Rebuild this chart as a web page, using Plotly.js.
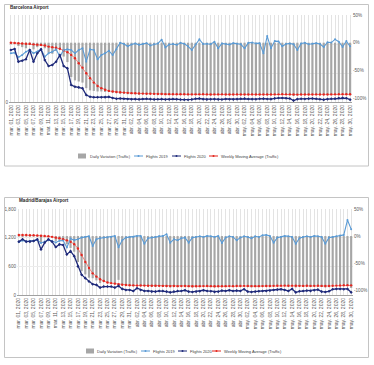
<!DOCTYPE html>
<html><head><meta charset="utf-8">
<script src="https://cdn.plot.ly/plotly-3.0.1.min.js"></script>
<style>html,body{margin:0;padding:0;background:#fff}#chart{width:374px;height:365px}</style>
</head><body><div id="chart"></div>
<script>
// ---- categories / tick labels ----
const MONTHS = ['mar.', 'abr.', 'may.'];
const MONTH_DAYS = [31, 30, 30];
const dates = [];
MONTHS.forEach((m, k) => { for (let d = 1; d <= MONTH_DAYS[k]; d++) dates.push(m + ' ' + String(d).padStart(2, '0') + ', 2020'); });
const dayIndex = dates.map((_, i) => i);

const SERIES_NAMES = ['Daily Variation (Traffic)', 'Flights 2019', 'Flights 2020', 'Weekly Moving Average (Traffic)'];
const PANEL_TITLES = ['Barcelona Airport', 'Madrid/Barajas Airport'];

// ---- Barcelona ----
const bcnFlights2020 = [
  897, 914, 695, 712, 736, 897, 695, 840, 908, 724,
  620, 638, 695, 810, 620, 580, 293, 264, 253, 236,
  121, 91, 81, 81, 81, 84, 88, 70, 57, 60,
  55, 52, 48, 50, 46, 52, 55, 50, 45, 47,
  50, 44, 46, 52, 48, 42, 40, 38, 45, 55,
  60, 50, 45, 48, 50, 46, 44, 52, 48, 46,
  50, 55, 60, 52, 50, 48, 55, 58, 52, 50,
  62, 68, 70, 65, 60, 25, 50, 55, 52, 58,
  60, 55, 48, 40, 50, 55, 58, 68, 72, 65,
  40];
const bcnFlights2019 = [
  839, 850, 770, 810, 868, 897, 839, 868, 908, 782,
  839, 868, 908, 782, 897, 908, 897, 839, 897, 925,
  695, 908, 897, 736, 810, 839, 885, 810, 908, 1023,
  1000, 960, 990, 1010, 985, 1000, 1015, 975, 995, 1010,
  1075, 940, 990, 1000, 985, 1020, 1005, 960, 897, 990,
  1080, 1000, 1005, 995, 1040, 925, 1010, 1000, 990, 1015,
  1005, 995, 925, 1020, 1025, 1010, 1015, 839, 1137, 925,
  1050, 1045, 960, 1000, 1010, 995, 897, 1010, 1020, 995,
  1005, 1015, 1000, 950, 1030, 1025, 1080, 1040, 950, 1050,
  960];
const bcnDailyVar = [
  -3, -2, -6, -8, -10, -4, -12, -8, -6, -10,
  -18, -20, -15, -12, -25, -35, -62, -68, -70, -72,
  -82, -86, -87, -88, -88, -89, -89, -90, -91, -92,
  -92, -93, -92, -93, -94, -93, -93, -92, -94, -93,
  -94, -93, -94, -93, -92, -94, -94, -95, -93, -94,
  -94, -93, -94, -95, -93, -94, -94, -93, -94, -93,
  -94, -93, -93, -94, -93, -94, -94, -93, -94, -93,
  -93, -92, -93, -94, -93, -96, -94, -93, -94, -93,
  -93, -94, -93, -94, -94, -93, -93, -92, -92, -93,
  -95];
const bcnWeeklyAvg = [
  0, -0.5, -1, -1.5, -2, -2, -3, -3.5, -4, -5,
  -7, -8, -9, -11, -14, -17, -22, -28, -37, -45,
  -55, -64, -72, -78, -82, -85, -87, -88, -89, -89.5,
  -90, -90.5, -91, -91.2, -91.5, -91.8, -92, -92, -92.3, -92.5,
  -92.6, -92.8, -92.8, -93, -93, -93.1, -93, -93.2, -93.3, -93.2,
  -93.2, -93.1, -93.3, -93.4, -93.3, -93.3, -93.2, -93.4, -93.5, -93.4,
  -93.3, -93.4, -93.5, -93.4, -93.3, -93.4, -93.5, -93.6, -93.5, -93.4,
  -93.3, -93.2, -93.1, -93.2, -93.3, -93.6, -93.7, -93.6, -93.5, -93.4,
  -93.4, -93.3, -93.4, -93.5, -93.4, -93.3, -93.2, -93.1, -93.0, -93.0,
  -93.1];

// ---- Madrid ----
const madFlights2020 = [
  1117, 1166, 1117, 1117, 1131, 1166, 954, 1096, 1166, 1117,
  1004, 1060, 1046, 848, 918, 813, 600, 424, 353, 282,
  226, 212, 155, 177, 177, 177, 155, 190, 127, 106,
  106, 85, 141, 106, 85, 85, 71, 71, 85, 85,
  71, 56, 71, 85, 85, 99, 71, 64, 71, 78,
  99, 85, 78, 64, 71, 92, 85, 99, 85, 92,
  85, 120, 71, 64, 71, 78, 85, 85, 92, 106,
  113, 120, 106, 85, 127, 56, 78, 85, 92, 85,
  99, 113, 71, 64, 78, 120, 127, 127, 120, 127,
  56];
const madFlights2019 = [
  1110, 1140, 1120, 1130, 1125, 1150, 1090, 1120, 1145, 1130,
  1100, 1135, 1140, 995, 1180, 1150, 1166, 1201, 1215, 1230,
  1025, 1166, 1187, 1201, 1201, 1215, 1237, 1000, 1145, 1201,
  1215, 1215, 1237, 1237, 1074, 1187, 1201, 1215, 1237, 1237,
  1272, 1096, 1166, 1145, 1187, 1201, 1096, 1201, 1215, 1230,
  1215, 1237, 1230, 1215, 1237, 1090, 1201, 1230, 1215, 1145,
  1201, 1230, 1215, 1187, 1230, 1215, 1251, 1258, 1237, 1096,
  1201, 1215, 1237, 1230, 1215, 1074, 1187, 1215, 1230, 1215,
  1237, 1230, 1215, 1074, 1201, 1215, 1230, 1244, 1258, 1569,
  1378];
const madDailyVar = [
  -1, -2, -1, -1, -1, -1, -12, -2, -1, -1,
  -9, -7, -8, -15, -22, -29, -48, -65, -71, -77,
  -78, -82, -87, -85, -85, -85, -87, -81, -89, -91,
  -91, -93, -89, -91, -92, -93, -94, -94, -93, -93,
  -94, -95, -94, -93, -93, -92, -94, -95, -94, -94,
  -92, -93, -94, -95, -94, -92, -93, -92, -93, -92,
  -93, -90, -94, -95, -94, -94, -93, -93, -93, -91,
  -91, -90, -91, -93, -90, -95, -93, -93, -92, -93,
  -92, -91, -94, -95, -94, -90, -90, -90, -90, -92,
  -96];
const madWeeklyAvg = [
  2, 2, 1.8, 1.6, 1.5, 1, 0.5, 0, -0.5, -1.5,
  -3, -4, -6, -8, -10.5, -15, -23, -35, -48, -59,
  -69, -75, -80, -83, -86, -87, -88, -89, -90, -90.5,
  -91, -91.2, -91.3, -91.5, -91.6, -91.8, -92, -92, -92.1, -92.2,
  -92.3, -92.5, -92.4, -92.6, -92.5, -92.4, -92.6, -92.8, -92.7, -92.6,
  -92.5, -92.4, -92.6, -92.8, -92.9, -92.7, -92.6, -92.5, -92.6, -92.4,
  -92.3, -92.1, -92.3, -92.5, -92.6, -92.6, -92.5, -92.4, -92.3, -92.1,
  -91.9, -91.7, -91.6, -91.8, -91.7, -92.0, -92.1, -92.2, -92.0, -92.2,
  -92.1, -92.0, -92.2, -92.4, -92.3, -91.9, -91.6, -91.3, -91.0, -91.0,
  -91.2];

const pctTicks = [-100, -50, 0, 50];
const pctTickText = ['-100%', '-50%', '0%', '50%'];
const madFlightTicks = [0, 600, 1200, 1800];
const madFlightTickText = ['0', '600', '1,200', '1,800'];
const bcnFlightTicks = [0, 500, 1000, 1500];
const bcnFlightTickText = ['0', '', '', ''];

// ---- styles ----
const W = 374, H = 365;
const px = p => p / W, py = p => 1 - p / H;
const FONT = 'Liberation Sans, Arial, sans-serif';
const C_BAR = '#a6a6a6', C_2019 = '#5b9bd5', C_2020 = '#1f2a7a', C_AVG = '#e3261f';
const evenTicks = dayIndex.filter(i => i % 2 === 0);
const evenText = evenTicks.map(i => dates[i]);

function panelTraces(xa, yPct, yFl, v, a, f19, f20) {
  return [
    {type: 'bar', x: dayIndex, y: v, xaxis: xa, yaxis: yPct, name: SERIES_NAMES[0], marker: {color: C_BAR}, width: 0.58, hoverinfo: 'skip', showlegend: false},
    {type: 'scatter', mode: 'lines+markers', x: dayIndex, y: a, xaxis: xa, yaxis: yPct, name: SERIES_NAMES[3], line: {color: '#ee6a62', width: 0.8}, marker: {color: C_AVG, size: 2.4}, hoverinfo: 'skip', showlegend: false},
    {type: 'scatter', mode: 'lines+markers', x: dayIndex, y: f19, xaxis: xa, yaxis: yFl, name: SERIES_NAMES[1], line: {color: C_2019, width: 1.1}, marker: {color: C_2019, size: 2}, hoverinfo: 'skip', showlegend: false},
    {type: 'scatter', mode: 'lines+markers', x: dayIndex, y: f20, xaxis: xa, yaxis: yFl, name: SERIES_NAMES[2], line: {color: C_2020, width: 1.3}, marker: {color: C_2020, size: 2.4, symbol: 'diamond'}, hoverinfo: 'skip', showlegend: false}
  ];
}

const data = [].concat(
  panelTraces('x', 'y', 'y2', bcnDailyVar, bcnWeeklyAvg, bcnFlights2019, bcnFlights2020),
  panelTraces('x2', 'y3', 'y4', madDailyVar, madWeeklyAvg, madFlights2019, madFlights2020)
);

function xAxis(dom, anchor) {
  return {domain: dom, anchor: anchor, range: [-0.5, 90.5], tickmode: 'array', tickvals: evenTicks, ticktext: evenText,
    tickangle: -90, tickfont: {family: FONT, size: 5, color: '#595959'}, ticks: '', showline: true, linecolor: '#a0a0a0', linewidth: 1,
    showgrid: true, gridcolor: '#e3e3e3', gridwidth: 1, zeroline: false,
    minor: {tickmode: 'linear', tick0: 0, dtick: 1, showgrid: true, gridcolor: '#e3e3e3', gridwidth: 1, ticks: ''}};
}
function pctAxis(dom, anchor, rng) {
  return {domain: dom, anchor: anchor, side: 'right', range: rng, tickmode: 'array', tickvals: pctTicks, ticktext: pctTickText,
    tickfont: {family: FONT, size: 4.6, color: '#595959'}, showgrid: false, zeroline: false, ticks: '', showline: false};
}
function flAxis(overlay, anchor, rng, tv, tt) {
  return {overlaying: overlay, anchor: anchor, side: 'left', range: rng, tickmode: 'array', tickvals: tv, ticktext: tt,
    tickfont: {family: FONT, size: 4.6, color: '#595959'}, showgrid: true, gridcolor: '#ececec', zeroline: false, ticks: '', showline: false};
}

const shapes = [
  {type: 'rect', xref: 'paper', yref: 'paper', x0: px(4.5), x1: px(368.5), y0: py(4.5), y1: py(166), line: {color: '#c4c4c4', width: 1}},
  {type: 'rect', xref: 'paper', yref: 'paper', x0: px(4.5), x1: px(368.5), y0: py(197.5), y1: py(357.5), line: {color: '#c4c4c4', width: 1}}
];
const annotations = [
  {xref: 'paper', yref: 'paper', x: px(8), y: py(7.5), xanchor: 'left', yanchor: 'middle', showarrow: false, text: '<b>' + PANEL_TITLES[0] + '</b>', font: {family: FONT, size: 4.6, color: '#262626'}},
  {xref: 'paper', yref: 'paper', x: px(17), y: py(201), xanchor: 'left', yanchor: 'middle', showarrow: false, text: '<b>' + PANEL_TITLES[1] + '</b>', font: {family: FONT, size: 4.6, color: '#262626'}}
];

function legend(yc, pos) {
  // pos: [boxX, line2019X, line2020X, lineAvgX]
  const colors = [null, C_2019, C_2020, C_AVG];
  pos.forEach((x0, k) => {
    if (k === 0) {
      shapes.push({type: 'rect', xref: 'paper', yref: 'paper', x0: px(x0), x1: px(x0 + 8), y0: py(yc + 2.5), y1: py(yc - 2.5), fillcolor: C_BAR, line: {width: 0}});
    } else {
      shapes.push({type: 'line', xref: 'paper', yref: 'paper', x0: px(x0), x1: px(x0 + 9), y0: py(yc), y1: py(yc), line: {color: colors[k], width: 1}});
      shapes.push({type: 'circle', xref: 'paper', yref: 'paper', x0: px(x0 + 3.5), x1: px(x0 + 5.5), y0: py(yc + 1), y1: py(yc - 1), fillcolor: colors[k], line: {width: 0}});
    }
    annotations.push({xref: 'paper', yref: 'paper', x: px(x0 + 10.5), y: py(yc), xanchor: 'left', yanchor: 'middle', showarrow: false,
      text: SERIES_NAMES[k], font: {family: FONT, size: 4.0, color: '#404040'}, borderpad: 0});
  });
}
legend(156, [78, 134, 172, 209]);
legend(351, [86, 141, 178, 212]);

const layout = {
  width: W, height: H, margin: {l: 0, r: 0, t: 0, b: 0},
  paper_bgcolor: '#ffffff', plot_bgcolor: 'rgba(0,0,0,0)', showlegend: false,
  bargap: 0.4, font: {family: FONT},
  xaxis: xAxis([px(9), px(352)], 'y'),
  yaxis: pctAxis([py(102), py(15)], 'x', [-107, 50]),
  yaxis2: flAxis('y', 'x', [0, 1500], bcnFlightTicks, bcnFlightTickText),
  xaxis2: xAxis([px(17), px(353)], 'y3'),
  yaxis3: pctAxis([py(295), py(209)], 'x2', [-109, 50]),
  yaxis4: flAxis('y3', 'x2', [0, 1800], madFlightTicks, madFlightTickText),
  shapes: shapes, annotations: annotations
};

Plotly.newPlot('chart', data, layout, {displayModeBar: false, staticPlot: true});
</script></body></html>
